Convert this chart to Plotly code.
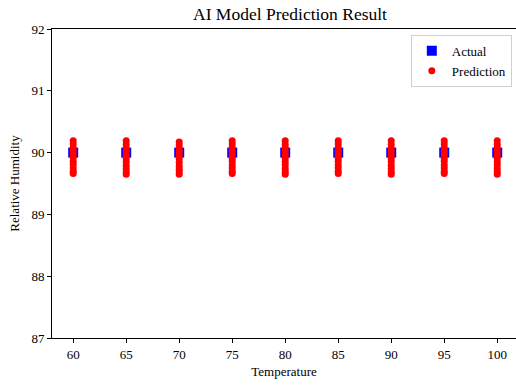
import plotly.graph_objects as go

temperatures = [60, 65, 70, 75, 80, 85, 90, 95, 100]
actual_humidity = [90, 90, 90, 90, 90, 90, 90, 90, 90]

pred_60 = [90.19, 90.14, 90.08, 90.03, 89.97, 89.92, 89.86, 89.81, 89.75, 89.70, 89.66]
pred_65 = [90.19, 90.13, 90.07, 90.02, 89.96, 89.91, 89.85, 89.79, 89.74, 89.69, 89.65]
pred_70 = [90.17, 90.12, 90.06, 90.01, 89.95, 89.90, 89.84, 89.78, 89.73, 89.69, 89.65]
pred_75 = [90.19, 90.14, 90.08, 90.02, 89.97, 89.91, 89.86, 89.80, 89.75, 89.70, 89.66]
pred_80 = [90.19, 90.13, 90.08, 90.02, 89.96, 89.91, 89.85, 89.80, 89.74, 89.69, 89.65]
pred_85 = [90.19, 90.14, 90.08, 90.03, 89.97, 89.91, 89.86, 89.80, 89.75, 89.70, 89.66]
pred_90 = [90.19, 90.13, 90.07, 90.02, 89.96, 89.90, 89.85, 89.79, 89.74, 89.69, 89.65]
pred_95 = [90.19, 90.14, 90.08, 90.02, 89.97, 89.91, 89.86, 89.80, 89.75, 89.70, 89.66]
pred_100 = [90.19, 90.13, 90.08, 90.02, 89.96, 89.91, 89.85, 89.80, 89.74, 89.69, 89.65]
predictions = [pred_60, pred_65, pred_70, pred_75, pred_80, pred_85, pred_90, pred_95, pred_100]

pred_x = []
pred_y = []
for t, vals in zip(temperatures, predictions):
    pred_x += [t] * len(vals)
    pred_y += vals

FONT = "Liberation Serif, Times New Roman, serif"

fig = go.Figure()
fig.add_trace(go.Scatter(
    x=temperatures, y=actual_humidity, mode="markers", name="Actual",
    marker=dict(symbol="square", size=10, color="#0000ff", line=dict(width=0)),
))
fig.add_trace(go.Scatter(
    x=pred_x, y=pred_y, mode="markers", name="Prediction",
    marker=dict(symbol="circle", size=7, color="#ff0000", line=dict(width=0)),
))

fig.update_layout(
    width=516, height=385,
    margin=dict(l=52, r=0, t=29, b=47),
    paper_bgcolor="white", plot_bgcolor="white",
    font=dict(family=FONT, size=13, color="black"),
    title=dict(text="AI Model Prediction Result", x=290/516, xanchor="center",
               y=1 - 14/385, yanchor="middle", font=dict(family=FONT, size=17.5, color="black")),
    showlegend=True,
    legend=dict(x=0.991, xanchor="right", y=0.981, yanchor="top",
                bordercolor="#d0d0d0", borderwidth=1, bgcolor="white",
                font=dict(family=FONT, size=13, color="black"),
                itemsizing="trace"),
)
fig.update_xaxes(
    range=[58, 101.77], tickvals=temperatures, ticktext=[str(t) for t in temperatures],
    showgrid=False, zeroline=False, showline=True, linecolor="black", linewidth=1, mirror=True,
    ticks="outside", ticklen=4, tickcolor="black", tickfont=dict(family=FONT, size=13),
    title=dict(text="Temperature", font=dict(family=FONT, size=13), standoff=6),
)
fig.update_yaxes(
    range=[87, 92], tickvals=[87, 88, 89, 90, 91, 92],
    showgrid=False, zeroline=False, showline=True, linecolor="black", linewidth=1, mirror=True,
    ticks="outside", ticklen=4, tickcolor="black", tickfont=dict(family=FONT, size=13),
    title=dict(text="Relative Humidity", font=dict(family=FONT, size=13), standoff=8),
)

fig.write_html("out.html", config={"displayModeBar": False},
               post_script="document.body.style.margin='0';")
